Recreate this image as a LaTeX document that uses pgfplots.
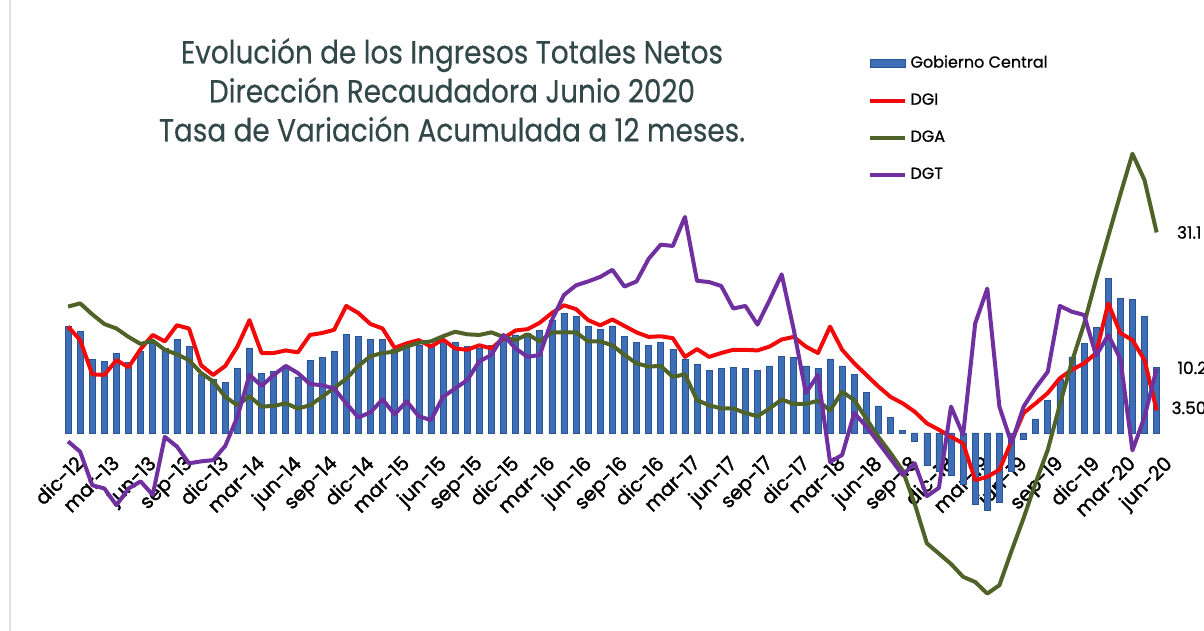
\documentclass[border=0pt]{standalone}
\usepackage{pgfplots}
\usepackage{pgfplotstable}
\pgfplotsset{compat=1.18}
\usepackage{fontspec}
\setmainfont{Poppins}
\newfontfamily\heavyfont{Poppins}[FakeBold=1.6]
\newfontfamily\midfont{Poppins}[FakeBold=0.8]
\newfontfamily\titlefont{Poppins}[FakeBold=0.4]
\definecolor{gcfill}{HTML}{3D6EB6}
\definecolor{gcdark}{HTML}{2A5595}
\definecolor{dgired}{HTML}{F20A0A}
\definecolor{dgagreen}{HTML}{4F6228}
\definecolor{dgtpurple}{HTML}{7030A0}
\definecolor{titlecol}{HTML}{324848}

\pgfplotstableread{
i gc dgi dga dgt
0 16.5 16.5 19.6 -1.3
1 15.7 14.4 20.1 -2.9
2 11.4 9.1 18.4 -8.1
3 11.1 9.0 16.9 -8.6
4 12.4 11.3 16.2 -11.2
5 11.0 10.2 14.9 -8.6
6 12.6 13.0 13.8 -7.5
7 13.9 15.2 14.3 -9.6
8 13.1 14.2 12.9 -0.6
9 14.5 16.7 12.2 -2.1
10 13.4 16.2 11.3 -4.7
11 9.1 10.5 9.3 -4.4
12 8.3 9.0 8.0 -4.2
13 7.9 10.4 5.6 -2.0
14 10.0 13.4 4.3 2.5
15 13.2 17.5 5.7 9.0
16 9.3 12.4 4.1 7.3
17 9.5 12.4 4.2 9.0
18 10.0 12.8 4.6 10.4
19 8.7 12.5 3.8 9.3
20 11.2 15.2 4.3 7.6
21 11.7 15.5 5.6 7.4
22 12.7 16.0 7.0 6.9
23 15.3 19.7 8.4 4.6
24 15.0 18.6 10.4 2.4
25 14.5 16.9 11.9 3.2
26 14.5 16.2 12.4 5.2
27 13.0 13.2 12.6 2.9
28 13.4 13.9 13.4 4.9
29 13.6 14.4 14.0 2.6
30 13.5 13.4 14.2 2.0
31 14.2 14.5 15.0 5.6
32 14.0 13.1 15.7 6.9
33 13.4 12.9 15.3 8.2
34 13.2 13.6 15.2 11.1
35 13.6 13.1 15.6 12.1
36 14.3 14.7 14.9 15.2
37 15.2 15.9 14.4 13.1
38 15.5 16.1 15.3 11.8
39 15.9 17.1 14.2 12.1
40 17.5 18.6 15.6 17.5
41 18.6 19.8 15.6 21.4
42 18.1 19.2 15.6 22.9
43 16.5 17.5 14.2 23.5
44 16.1 16.7 14.2 24.2
45 16.6 17.6 13.6 25.3
46 15.0 16.6 12.1 22.7
47 14.0 15.6 10.8 23.5
48 13.6 14.9 10.3 27.0
49 14.0 15.0 10.4 29.2
50 13.0 14.7 8.7 29.0
51 11.4 11.8 9.1 33.5
52 10.7 13.0 5.1 23.6
53 9.7 11.8 4.3 23.4
54 10.0 12.4 3.8 22.8
55 10.2 12.9 3.8 19.3
56 10.0 12.9 3.1 19.7
57 9.7 12.8 2.6 16.8
58 10.4 13.4 3.8 20.6
59 11.9 14.5 5.2 24.6
60 11.7 14.9 4.5 16.0
61 10.4 13.4 4.5 6.2
62 10.0 12.4 5.0 9.0
63 11.5 16.5 3.5 -4.5
64 10.4 12.9 6.4 -3.4
65 9.1 10.8 5.1 3.1
66 6.3 9.0 2.2 1.0
67 4.2 7.2 -0.6 -1.5
68 2.4 5.6 -3.1 -4.0
69 0.4 4.6 -5.8 -6.5
70 -1.3 3.3 -11.0 -4.7
71 -5.0 1.5 -17.1 -9.8
72 -6.0 0.5 -18.7 -8.5
73 -6.5 -0.6 -20.3 4.1
74 -8.0 -1.6 -22.3 -0.3
75 -11.0 -7.3 -23.1 17.0
76 -12.0 -6.8 -24.9 22.4
77 -10.8 -5.7 -23.6 4.1
78 -6.0 -1.3 -18.3 -1.6
79 -1.0 3.1 -13.2 4.1
80 2.2 4.6 -7.7 7.0
81 5.0 6.2 -2.6 9.5
82 8.3 8.5 4.4 19.7
83 11.8 9.8 11.1 18.8
84 13.9 10.8 16.9 18.3
85 16.4 12.4 23.9 12.0
86 24.0 20.1 30.5 15.2
87 20.9 15.5 37.0 11.5
88 20.7 14.4 43.3 -2.7
89 18.1 11.3 39.2 2.5
90 10.2 3.5 31.1 10.0
}\datatable

\begin{document}
\begin{tikzpicture}
\path[use as bounding box] (0,0) rectangle (602pt,315.5pt);
\draw[black!12, line width=0.8pt] (5pt,0) -- (5pt,315.5pt);
\begin{axis}[
  at={(31pt,8.7pt)}, anchor=south west, scale only axis,
  width=550.35pt, height=238.65pt,
  xmin=-0.5, xmax=90.5, ymin=-28, ymax=46,
  axis x line=center, axis y line=none,
  x axis line style={draw=none},
  xtick={0,3,...,90},
  xticklabels={dic-12,mar-13,jun-13,sep-13,dic-13,mar-14,jun-14,sep-14,dic-14,mar-15,jun-15,sep-15,dic-15,mar-16,jun-16,sep-16,dic-16,mar-17,jun-17,sep-17,dic-17,mar-18,jun-18,sep-18,dic-18,mar-19,jun-19,sep-19,dic-19,mar-20,jun-20},
  xtick style={draw=none},
  major tick length=0pt,
  xticklabel style={xshift=3pt, yshift=-9pt, rotate=45, anchor=north east, inner sep=1pt,
    font=\heavyfont\fontsize{9.8}{10}\selectfont},
  clip=false,
  legend cell align=left,
  legend style={at={(0.7268,1.187)}, anchor=north west, draw=none, fill=none,
    font=\midfont\fontsize{8}{9}\selectfont, row sep=7.4pt},
]
\addplot[ybar, bar width=3pt, draw=gcdark, line width=0.3pt, fill=gcfill,
  legend image code/.code={\draw[draw=gcdark, fill=gcfill] (0pt,-2pt) rectangle (17.5pt,2pt);}]
  table[x=i,y=gc]{\datatable};
\addlegendentry{Gobierno Central}
\addplot[dgired, line width=2pt, line join=round, no marks] table[x=i,y=dgi]{\datatable};
\addlegendentry{DGI}
\addplot[dgagreen, line width=2pt, line join=round, no marks] table[x=i,y=dga]{\datatable};
\addlegendentry{DGA}
\addplot[dgtpurple, line width=2pt, line join=round, no marks] table[x=i,y=dgt]{\datatable};
\addlegendentry{DGT}
\node[anchor=west, inner sep=0pt, font=\midfont\fontsize{8.5}{9}\selectfont] at (axis cs:91.65,31.1) {31.1};
\node[anchor=west, inner sep=0pt, font=\midfont\fontsize{8.5}{9}\selectfont] at (axis cs:91.7,10.1) {10.2};
\node[anchor=west, inner sep=0pt, font=\midfont\fontsize{8.5}{9}\selectfont] at (axis cs:91.2,3.9) {3.50};
\end{axis}
\node[text=titlecol, align=center, inner sep=0pt, font=\titlefont\fontsize{16}{19.5}\selectfont] at (226pt,270.5pt)
  {\scalebox{0.87}[1]{Evolución de los Ingresos Totales Netos}\\
   \scalebox{0.87}[1]{Dirección Recaudadora Junio 2020}\\
   \scalebox{0.87}[1]{Tasa de Variación Acumulada a 12 meses.}};
\end{tikzpicture}
\end{document}
